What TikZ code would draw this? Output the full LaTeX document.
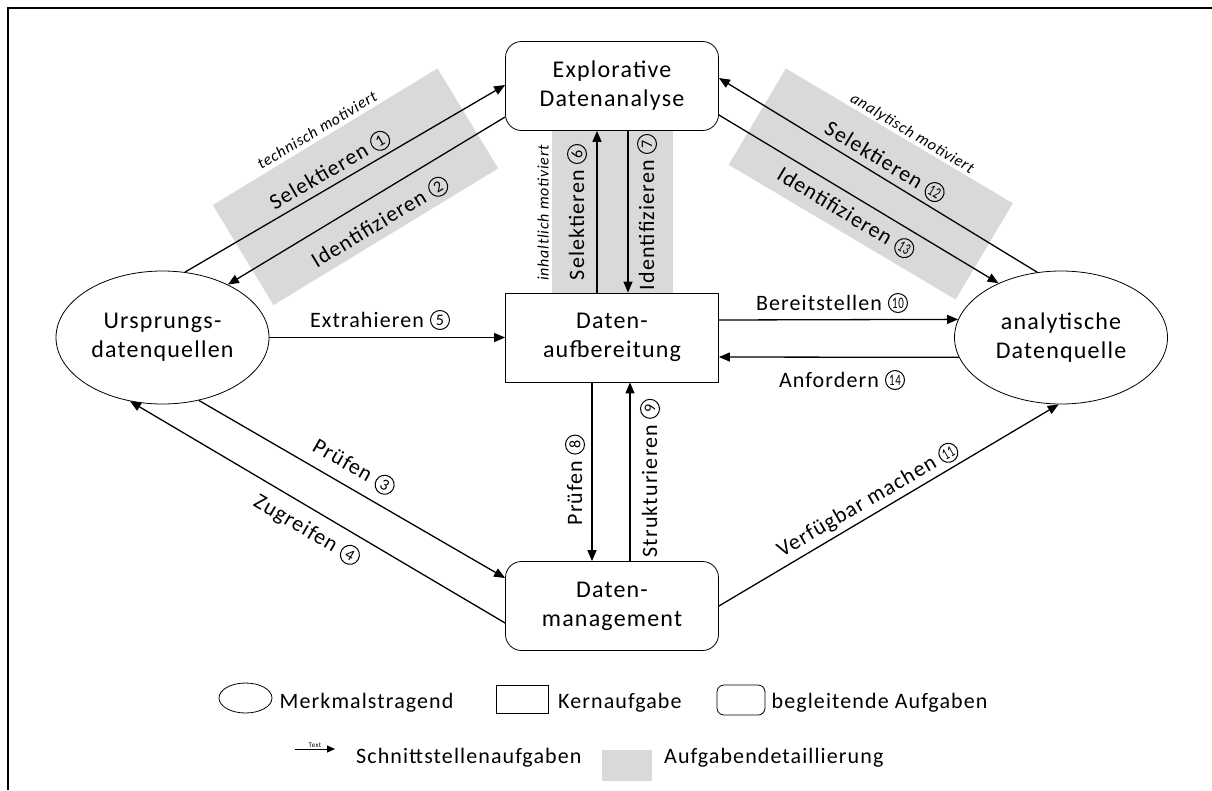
\documentclass[tikz,border=0pt]{standalone}
\usepackage{fontspec}
\setmainfont{Carlito}[LetterSpace=5]
\usetikzlibrary{shapes.geometric,arrows.meta,calc}
\definecolor{bandgray}{HTML}{D9D9D9}
\newcommand{\nodefont}{\fontsize{24}{29}\selectfont}
\newcommand{\lblfont}{\fontsize{22}{26}\selectfont}
\newcommand{\lgfont}{\fontsize{22}{26}\selectfont}
\newcommand{\italfont}{\fontsize{16}{19}\selectfont\itshape}
\newcommand{\cn}[1]{\tikz[baseline=-7pt]\node[circle,draw,line width=1pt,inner sep=0pt,minimum size=19pt,font=\fontsize{16}{16}\selectfont] at (0,0) {#1};}
\newcommand{\cnn}[1]{\cn{\scalebox{0.68}[1]{#1}}}
\tikzset{
 box/.style={draw,line width=0.8pt,fill=white,minimum width=213pt,minimum height=89pt,align=center,font=\nodefont,inner sep=0pt},
 rbox/.style={box,rounded corners=16pt},
 ell/.style={ellipse,draw,line width=0.8pt,fill=white,minimum width=213pt,minimum height=133pt,align=center,font=\nodefont,inner sep=0pt},
 conn/.style={line width=1.3pt,-{Triangle[length=11pt,width=9pt]}},
 lbl/.style={font=\lblfont,inner sep=0pt},
 ital/.style={font=\italfont,inner sep=0pt},
 band/.style={fill=bandgray,draw=none,inner sep=0pt},
 lgshape/.style={draw,line width=0.8pt,inner sep=0pt},
 lgt/.style={font=\lgfont,inner sep=0pt},
}
\begin{document}
\begin{tikzpicture}[x=1pt,y=-1pt]
\useasboundingbox (0,0) rectangle (1212,790);
% frame
\draw[line width=2.2pt] (8,790) -- (8,8) -- (1212,8);
% detail bands
\node[band,minimum width=263pt,minimum height=117pt,rotate=31.3] (bandL) at (355.5,186.75) {};
\node[band,minimum width=264pt,minimum height=112pt,rotate=-30.7] (bandR) at (870.75,184) {};
\node[band,minimum width=121pt,minimum height=163pt] (bandM) at (612.5,211.5) {};
% main nodes
\node[rbox] (expl) at (612,86) {Explorative\\Datenanalyse};
\node[box] (aufb) at (612,337.5) {Daten-\\aufbereitung};
\node[rbox] (mgmt) at (612,606) {Daten-\\management};
\node[ell] (ur) at (162.5,337.5) {Ursprungs-\\datenquellen};
\node[ell] (an) at (1061,337.5) {analytische\\Datenquelle};
% connectors
\draw[conn] (ur.71) -- ([yshift=1pt]expl.west);
\draw[conn] ([yshift=-31pt]expl.west) -- (ur.39);
\draw[conn] (ur.east) -- (aufb.west);
\draw[conn] (ur.-60) -- ([yshift=28pt]mgmt.west);
\draw[conn] ([yshift=-17pt]mgmt.west) -- (ur.-117);
\draw[conn] ([xshift=-15pt]aufb.north) -- ([xshift=-15pt]expl.south);
\draw[conn] ([xshift=16pt]expl.south) -- ([xshift=16pt]aufb.north);
\draw[conn] ([xshift=-20pt]aufb.south) -- ([xshift=-20pt]mgmt.north);
\draw[conn] ([xshift=18pt]mgmt.north) -- ([xshift=18pt]aufb.south);
\draw[conn] ([yshift=17.5pt]aufb.east) -- (an.170);
\draw[conn] (an.191) -- ([yshift=-19.5pt]aufb.east);
\draw[conn] (mgmt.east) -- (an.-92);
\draw[conn] (an.110) -- ([yshift=8pt]expl.east);
\draw[conn] ([yshift=-29pt]expl.east) -- (an.139);
% labels
\node[ital,rotate=31] (t1) at (317,130) {technisch motiviert};
\node[lbl,rotate=30.2] (l1) at (330,170) {Selektieren \cn{1}};
\node[lbl,rotate=31.2] (l2) at (380,222) {Identifizieren \cn{2}};
\node[lbl,rotate=-30.1] (l3) at (354,467) {Prüfen \cn{3}};
\node[lbl,rotate=-30.5] (l4) at (307,530) {Zugreifen \cn{4}};
\node[lbl] (l5) at (380,320) {Extrahieren \cn{5}};
\node[lbl,rotate=90] (l6) at (577,212) {Selektieren \cn{6}};
\node[ital,rotate=90] (t2) at (543,213) {inhaltlich motiviert};
\node[lbl,rotate=90] (l7) at (647,212) {Identifizieren \cn{7}};
\node[lbl,rotate=90] (l8) at (575,480) {Prüfen \cn{8}};
\node[lbl,rotate=90] (l9) at (650,478) {Strukturieren \cn{9}};
\node[lbl] (l10) at (832,303) {Bereitstellen \cnn{10}};
\node[lbl,rotate=30.2] (l11) at (868,500) {Verfügbar machen \cnn{11}};
\node[ital,rotate=-31] (t3) at (912,134) {analytisch motiviert};
\node[lbl,rotate=-31.2] (l12) at (885,162) {Selektieren \cnn{12}};
\node[lbl,rotate=-31.1] (l13) at (846,213) {Identifizieren \cnn{13}};
\node[lbl] (l14) at (842,380) {Anfordern \cnn{14}};
% legend row 1
\node[lgshape,ellipse,minimum width=53pt,minimum height=30pt] (lgE) at (245.5,698) {};
\node[lgt,anchor=base west] (lgEt) at (279.5,708) {Merkmalstragend};
\node[lgshape,minimum width=52pt,minimum height=28pt] (lgK) at (522,699) {};
\node[lgt,anchor=base west] (lgKt) at (558,708) {Kernaufgabe};
\node[lgshape,rounded corners=7pt,minimum width=48pt,minimum height=30pt] (lgB) at (741,700) {};
\node[lgt,anchor=base west] (lgBt) at (771.5,708) {begleitende Aufgaben};
% legend row 2
\coordinate (lgA1) at (295,749);
\coordinate (lgA2) at (335,749);
\draw[line width=1pt,-{Triangle[length=8pt,width=7pt]}] (lgA1) -- (lgA2) node[midway,above=0.5pt,inner sep=0pt,font=\fontsize{7}{7}\selectfont] (lgAt) {Text};
\node[lgt,anchor=base west] (lgSt) at (356,763) {Schnittstellenaufgaben};
\node[band,minimum width=50pt,minimum height=31pt] (lgG) at (627,765.5) {};
\node[lgt,anchor=base west] (lgGt) at (664,763) {Aufgabendetaillierung};
\end{tikzpicture}
\end{document}
